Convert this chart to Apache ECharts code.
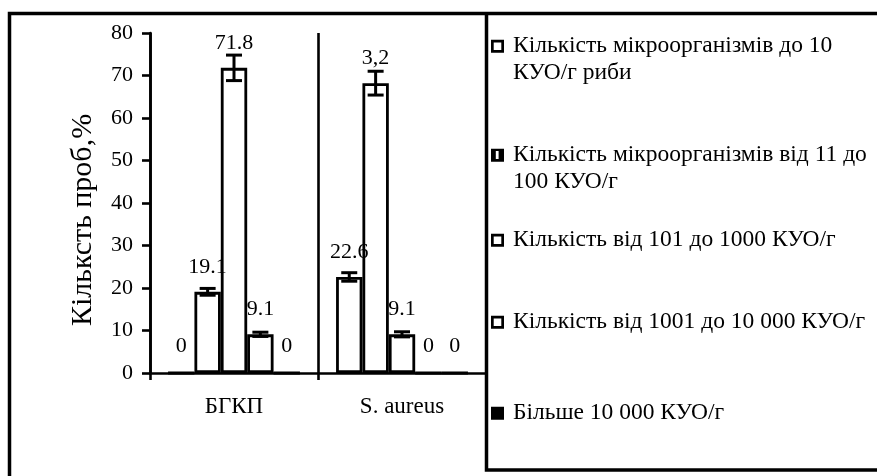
<!DOCTYPE html>
<html>
<head>
<meta charset="utf-8">
<script src="https://cdn.jsdelivr.net/npm/echarts@6/dist/echarts.min.js"></script>
<style>html,body{margin:0;padding:0;background:#fff;}#c{width:877px;height:476px;}</style>
</head>
<body>
<div id="c"></div>
<script>
// ---- data ----
const categories = ['БГКП', 'S. aureus'];
const seriesNames = [
  'Кількість мікроорганізмів до 10\nКУО/г риби',
  'Кількість мікроорганізмів від 11 до\n100 КУО/г',
  'Кількість від 101 до 1000 КУО/г',
  'Кількість від 1001 до 10 000 КУО/г',
  'Більше 10 000 КУО/г'
];
const values1 = [0, 22.6];
const values2 = [19.1, 68.2];
const values3 = [71.8, 9.1];
const values4 = [9.1, 0];
const values5 = [0, 0];
const errors1 = [0, 1.0];
const errors2 = [0.8, 2.8];
const errors3 = [3.0, 0.6];
const errors4 = [0.5, 0];
const errors5 = [0, 0];
const labels1 = ['0', '22.6'];
const labels2 = ['19.1', '3,2'];
const labels3 = ['71.8', '9.1'];
const labels4 = ['9.1', '0'];
const labels5 = ['0', '0'];
const yTicks = { min: 0, max: 80, interval: 10 };
const yAxisName = 'Кільксть проб,%';

// ---- build ----
const FONT = "'Liberation Serif', 'Times New Roman', serif";
const allValues = [values1, values2, values3, values4, values5];
const allErrors = [errors1, errors2, errors3, errors4, errors5];
const allLabels = [labels1, labels2, labels3, labels4, labels5];
const fills = ['#fff', '#fff', '#fff', '#fff', '#000'];
const CAT_GAP = 0.215;
const N = 5;

const series = [];
allValues.forEach((vals, si) => {
  series.push({
    type: 'bar',
    name: seriesNames[si],
    data: vals,
    barGap: '0%',
    barCategoryGap: (CAT_GAP * 100) + '%',
    itemStyle: { color: fills[si], borderColor: '#000', borderWidth: 2.8 },
    label: {
      show: true,
      position: 'top',
      distance: 14,
      color: '#000',
      fontFamily: FONT,
      fontSize: 22,
      formatter: p => allLabels[si][p.dataIndex]
    },
    z: 2
  });
});
allValues.forEach((vals, si) => {
  series.push({
    type: 'custom',
    name: 'err' + si,
    data: vals.map((v, i) => [i, v, allErrors[si][i]]),
    encode: { x: 0, y: 1 },
    silent: true,
    z: 5,
    renderItem: function (params, api) {
      const cat = api.value(0), v = api.value(1), e = api.value(2);
      if (!e) return null;
      const band = api.size([1, 0])[0];
      const barW = band * (1 - CAT_GAP) / N;
      const c = api.coord([cat, v]);
      const x = c[0] + (si - (N - 1) / 2) * barW;
      const hi = api.coord([cat, v + e])[1];
      const lo = api.coord([cat, v - e])[1];
      const hw = 8;
      const st = { stroke: '#000', lineWidth: 3 };
      return {
        type: 'group',
        children: [
          { type: 'line', shape: { x1: x, y1: hi, x2: x, y2: lo }, style: st },
          { type: 'line', shape: { x1: x - hw, y1: hi, x2: x + hw, y2: hi }, style: st },
          { type: 'line', shape: { x1: x - hw, y1: lo, x2: x + hw, y2: lo }, style: st }
        ]
      };
    }
  });
});

// legend icons (drawn as filled shapes; tall boxes keep the square beside the first text line)
const ICON_OUTLINE_1 = 'path://M0,0 L13,0 L13,13 L0,13 Z M2.7,2.7 L2.7,10.3 L10.3,10.3 L10.3,2.7 Z';
const ICON_SOLID_1 = 'path://M0,0 L13,0 L13,13 L0,13 Z';
const ICON_OUTLINE_2 = 'path://M0,0 M13,53 M0,6.75 L13,6.75 L13,19.75 L0,19.75 Z M2.7,9.45 L2.7,17.05 L10.3,17.05 L10.3,9.45 Z';
const ICON_SLIT_2 = 'path://M0,0 M13,53 M0,6.75 L13,6.75 L13,19.75 L0,19.75 Z M4.8,8.9 L4.8,16.9 L7.6,16.9 L7.6,8.9 Z';
const legendIcons = [ICON_OUTLINE_2, ICON_SLIT_2, ICON_OUTLINE_1, ICON_OUTLINE_1, ICON_SOLID_1];
const legendIconH = [53, 53, 13, 13, 13];
const legendTops = [33, 142, 227, 309, 400];
const legends = seriesNames.map((nm, si) => ({
  left: 491,
  top: legendTops[si],
  padding: 0,
  itemWidth: 13,
  itemHeight: legendIconH[si],
  orient: 'vertical',
  selectedMode: false,
  data: [{ name: nm, icon: legendIcons[si], itemStyle: { color: '#000', borderWidth: 0 } }],
  textStyle: {
    color: '#000',
    fontFamily: FONT,
    fontSize: 23.5,
    lineHeight: 26.5,
    padding: [0, 0, 0, 4]
  }
}));

const option = {
  animation: false,
  backgroundColor: '#fff',
  grid: { left: 150, right: 391, top: 33, bottom: 103 },
  legend: legends,
  xAxis: {
    type: 'category',
    data: categories,
    axisLine: { lineStyle: { color: '#000', width: 2.6 } },
    axisTick: { show: true, length: 7, lineStyle: { color: '#000', width: 2.6 } },
    splitLine: { show: true, lineStyle: { color: '#000', width: 2.6 } },
    axisLabel: { color: '#000', fontFamily: FONT, fontSize: 23, margin: 22 }
  },
  yAxis: {
    type: 'value',
    min: yTicks.min,
    max: yTicks.max,
    interval: yTicks.interval,
    name: yAxisName,
    nameLocation: 'middle',
    nameGap: 52,
    nameTextStyle: { color: '#000', fontFamily: FONT, fontSize: 30, padding: [0, 34, 0, 0] },
    axisLine: { show: true, lineStyle: { color: '#000', width: 2.6 } },
    axisTick: { show: true, length: 8, lineStyle: { color: '#000', width: 2.6 } },
    splitLine: { show: false },
    axisLabel: { color: '#000', fontFamily: FONT, fontSize: 22, margin: 17 }
  },
  graphic: [
    { type: 'polyline', shape: { points: [[9.5, 480], [9.5, 13.5], [877, 13.5]] }, style: { stroke: '#000', lineWidth: 3.5, fill: null }, z: 100 },
    { type: 'polyline', shape: { points: [[486.5, 13.5], [486.5, 470], [877, 470]] }, style: { stroke: '#000', lineWidth: 3.5, fill: null }, z: 100 }
  ],
  series: series
};

const chart = echarts.init(document.getElementById('c'));
chart.setOption(option);
</script>
</body>
</html>
